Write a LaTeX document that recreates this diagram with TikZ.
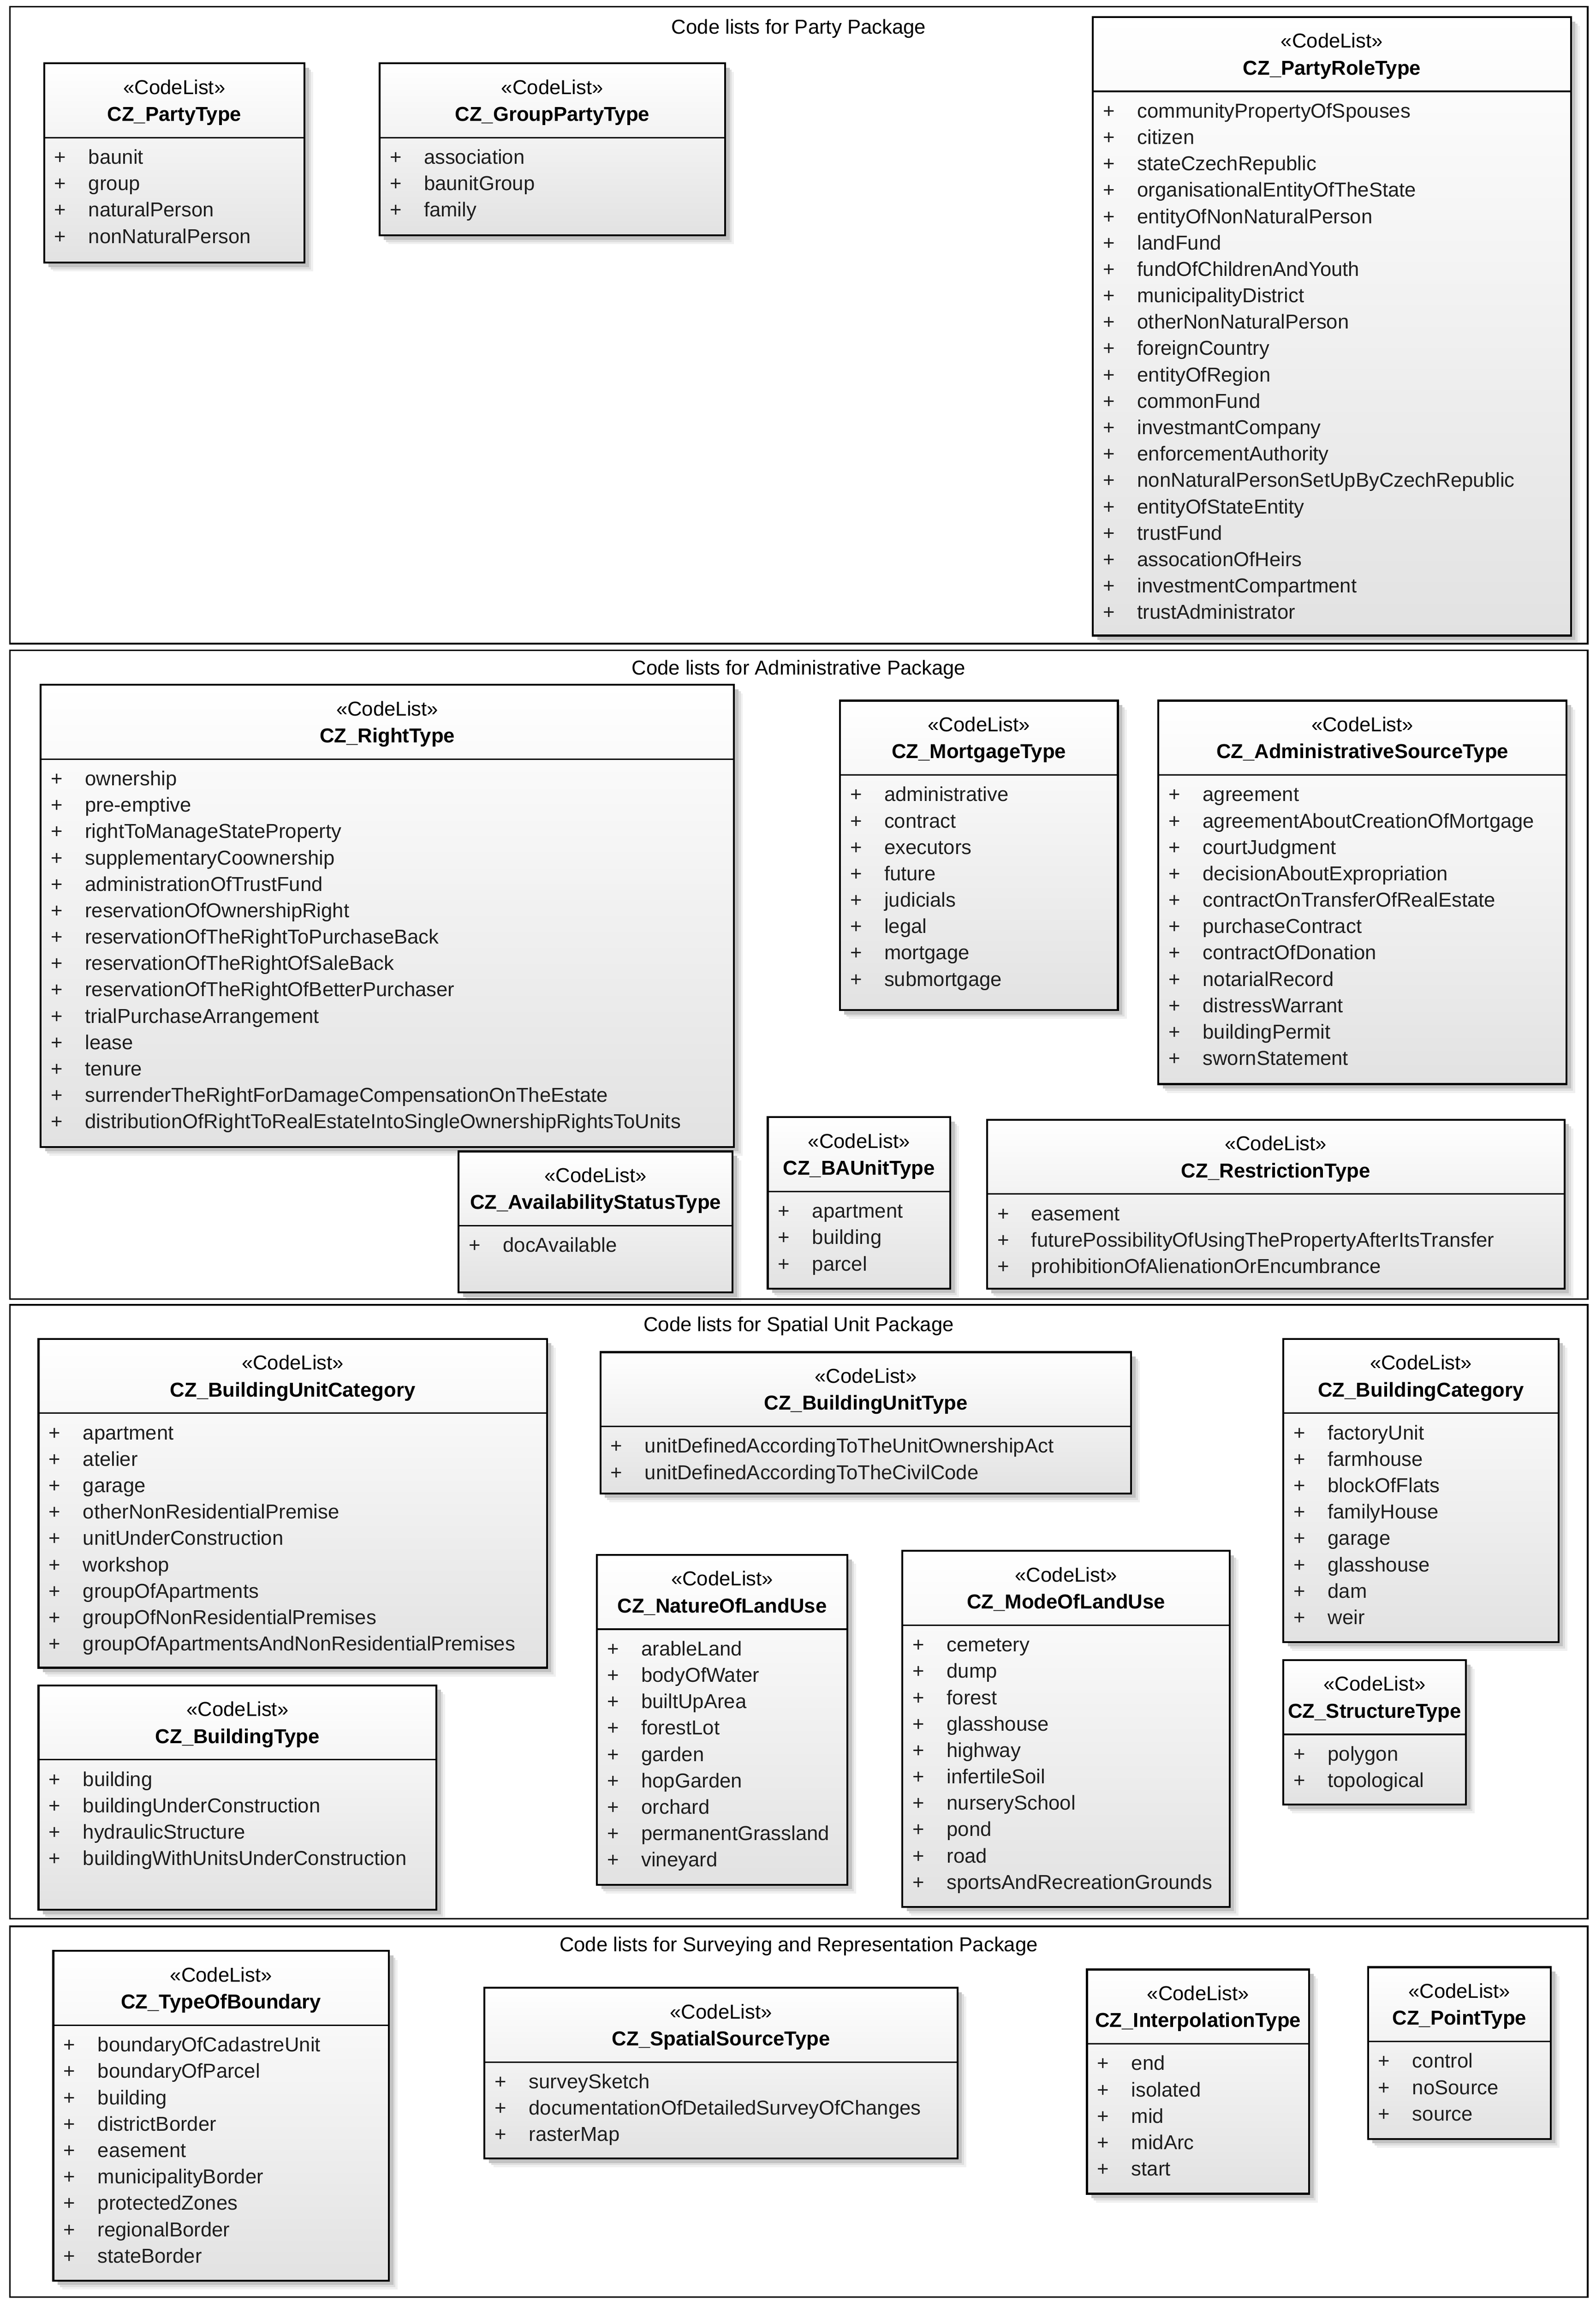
\documentclass[tikz,border=0pt]{standalone}
\usepackage{fontspec}
\setmainfont{Liberation Sans}
\definecolor{boxbot}{RGB}{226,226,226}
\definecolor{itemc}{RGB}{30,30,30}
\tikzset{
  pkgframe/.style={fill=white, inner sep=0pt, outer sep=0pt},
  pkgborder/.style={draw=black, line width=1.1pt},
  pkgtitle/.style={font=\fontsize{13.7}{16}\selectfont, anchor=base, inner sep=0pt, text=black},
  cbox/.style={draw=black, line width=1.3pt, top color=white, bottom color=boxbot, inner sep=0pt, outer sep=0pt},
  divline/.style={draw=black, line width=1pt},
  stereo/.style={font=\fontsize{13.7}{16}\selectfont, anchor=base, inner sep=0pt, text=black},
  cname/.style={font=\fontsize{13.7}{16}\selectfont\bfseries, anchor=base, inner sep=0pt, text=black},
  plus/.style={font=\fontsize{13.7}{16}\selectfont, anchor=base, inner sep=0pt, text=itemc},
  item/.style={font=\fontsize{13.7}{16}\selectfont, anchor=base west, inner sep=0pt, text=itemc},
}
\newcommand{\codelist}[7]{%
  \pgfmathsetmacro{\cx}{(#2+#4)/2}%
  \pgfmathsetmacro{\dv}{#3+50.5}%
  \pgfmathsetmacro{\bw}{#4-#2}%
  \pgfmathsetmacro{\bh}{#5-#3}%
  \fill[black!6] (#2+6,#3+6) rectangle (#4+6,#5+6);
  \fill[black!13] (#2+4.5,#3+4.5) rectangle (#4+4.5,#5+4.5);
  \fill[black!24] (#2+3,#3+3) rectangle (#4+3,#5+3);
  \node[cbox, minimum width=\bw, minimum height=\bh, anchor=north west] (#1) at (#2,#3) {};
  \draw[divline] (#2,\dv) -- (#4,\dv);
  \node[stereo] (#1-st) at (\cx,#3+21) {«CodeList»};
  \node[cname] (#1-nm) at (\cx,#3+39.3) {#6};
  \foreach \itm [count=\n] in {#7} {
    \pgfmathsetmacro{\yy}{\dv+18+(\n-1)*17.93}
    \node[plus] (#1-p\n) at (#2+11,\yy) {+};
    \node[item] (#1-i\n) at (#2+30,\yy) {\itm};
  }%
}
\begin{document}
\begin{tikzpicture}[x=1pt,y=-1pt]
\useasboundingbox[fill=white] (0,0) rectangle (1085,1568);
% package frames
\node[pkgframe, minimum width=1072.7, minimum height=432.8, anchor=north west] (fparty) at (6.7,4.6) {};
\node[pkgtitle] (tparty) at (543,23) {Code lists for Party Package};
\node[pkgframe, minimum width=1072.7, minimum height=441, anchor=north west] (fadmin) at (6.7,442) {};
\node[pkgtitle] (tadmin) at (543,458.5) {Code lists for Administrative Package};
\node[pkgframe, minimum width=1072.7, minimum height=417.3, anchor=north west] (fspatial) at (6.7,886.8) {};
\node[pkgtitle] (tspatial) at (543,905) {Code lists for Spatial Unit Package};
\node[pkgframe, minimum width=1072.7, minimum height=252, anchor=north west] (fsurvey) at (6.7,1309.3) {};
\node[pkgtitle] (tsurvey) at (543,1326.3) {Code lists for Surveying and Representation Package};
% Party package
\codelist{partytype}{30}{43}{207}{178.5}{CZ\_PartyType}{baunit,group,naturalPerson,nonNaturalPerson}
\codelist{grouppartytype}{258}{43}{493}{160}{CZ\_GroupPartyType}{association,baunitGroup,family}
\codelist{partyroletype}{743}{11.6}{1068}{432}{CZ\_PartyRoleType}{communityPropertyOfSpouses,citizen,stateCzechRepublic,organisationalEntityOfTheState,entityOfNonNaturalPerson,landFund,fundOfChildrenAndYouth,municipalityDistrict,otherNonNaturalPerson,foreignCountry,entityOfRegion,commonFund,investmantCompany,enforcementAuthority,nonNaturalPersonSetUpByCzechRepublic,entityOfStateEntity,trustFund,assocationOfHeirs,investmentCompartment,trustAdministrator}
% Administrative package
\codelist{righttype}{27.6}{465.4}{499}{779.5}{CZ\_RightType}{ownership,pre-emptive,rightToManageStateProperty,supplementaryCoownership,administrationOfTrustFund,reservationOfOwnershipRight,reservationOfTheRightToPurchaseBack,reservationOfTheRightOfSaleBack,reservationOfTheRightOfBetterPurchaser,trialPurchaseArrangement,lease,tenure,surrenderTheRightForDamageCompensationOnTheEstate,distributionOfRightToRealEstateIntoSingleOwnershipRightsToUnits}
\codelist{mortgagetype}{571}{476.2}{760}{686.5}{CZ\_MortgageType}{administrative,contract,executors,future,judicials,legal,mortgage,submortgage}
\codelist{adminsourcetype}{787.5}{476.2}{1065}{736.8}{CZ\_AdministrativeSourceType}{agreement,agreementAboutCreationOfMortgage,courtJudgment,decisionAboutExpropriation,contractOnTransferOfRealEstate,purchaseContract,contractOfDonation,notarialRecord,distressWarrant,buildingPermit,swornStatement}
\codelist{availtype}{311.8}{782.6}{498}{878.5}{CZ\_AvailabilityStatusType}{docAvailable}
\codelist{baunittype}{522}{759.3}{646}{875.8}{CZ\_BAUnitType}{apartment,building,parcel}
\codelist{restrictiontype}{671}{761}{1063.6}{876}{CZ\_RestrictionType}{easement,futurePossibilityOfUsingThePropertyAfterItsTransfer,prohibitionOfAlienationOrEncumbrance}
% Spatial unit package
\codelist{bucategory}{26.2}{910}{371.8}{1133.5}{CZ\_BuildingUnitCategory}{apartment,atelier,garage,otherNonResidentialPremise,unitUnderConstruction,workshop,groupOfApartments,groupOfNonResidentialPremises,groupOfApartmentsAndNonResidentialPremises}
\codelist{butype}{408.2}{919}{769}{1015}{CZ\_BuildingUnitType}{unitDefinedAccordingToTheUnitOwnershipAct,unitDefinedAccordingToTheCivilCode}
\codelist{bcategory}{872.5}{910}{1059.6}{1116}{CZ\_BuildingCategory}{factoryUnit,farmhouse,blockOfFlats,familyHouse,garage,glasshouse,dam,weir}
\codelist{structuretype}{872.5}{1128.3}{996.6}{1226.5}{CZ\_StructureType}{polygon,topological}
\codelist{naturelanduse}{405.8}{1056.8}{576.1}{1281}{CZ\_NatureOfLandUse}{arableLand,bodyOfWater,builtUpArea,forestLot,garden,hopGarden,orchard,permanentGrassland,vineyard}
\codelist{modelanduse}{613.5}{1054.1}{836}{1296}{CZ\_ModeOfLandUse}{cemetery,dump,forest,glasshouse,highway,infertileSoil,nurserySchool,pond,road,sportsAndRecreationGrounds}
\codelist{buildingtype}{26.2}{1145.5}{296.7}{1298.1}{CZ\_BuildingType}{building,buildingUnderConstruction,hydraulicStructure,buildingWithUnitsUnderConstruction}
% Surveying package
\codelist{boundarytype}{36.2}{1326}{264.4}{1550}{CZ\_TypeOfBoundary}{boundaryOfCadastreUnit,boundaryOfParcel,building,districtBorder,easement,municipalityBorder,protectedZones,regionalBorder,stateBorder}
\codelist{spatialsource}{329.4}{1351}{651}{1467}{CZ\_SpatialSourceType}{surveySketch,documentationOfDetailedSurveyOfChanges,rasterMap}
\codelist{interpolation}{739}{1338.6}{890}{1491}{CZ\_InterpolationType}{end,isolated,mid,midArc,start}
\codelist{pointtype}{930}{1337}{1054.3}{1453.8}{CZ\_PointType}{control,noSource,source}
% package frame borders on top
\foreach \fr in {fparty,fadmin,fspatial,fsurvey}{
  \draw[pkgborder] (\fr.north west) rectangle (\fr.south east);
}
\end{tikzpicture}
\end{document}
